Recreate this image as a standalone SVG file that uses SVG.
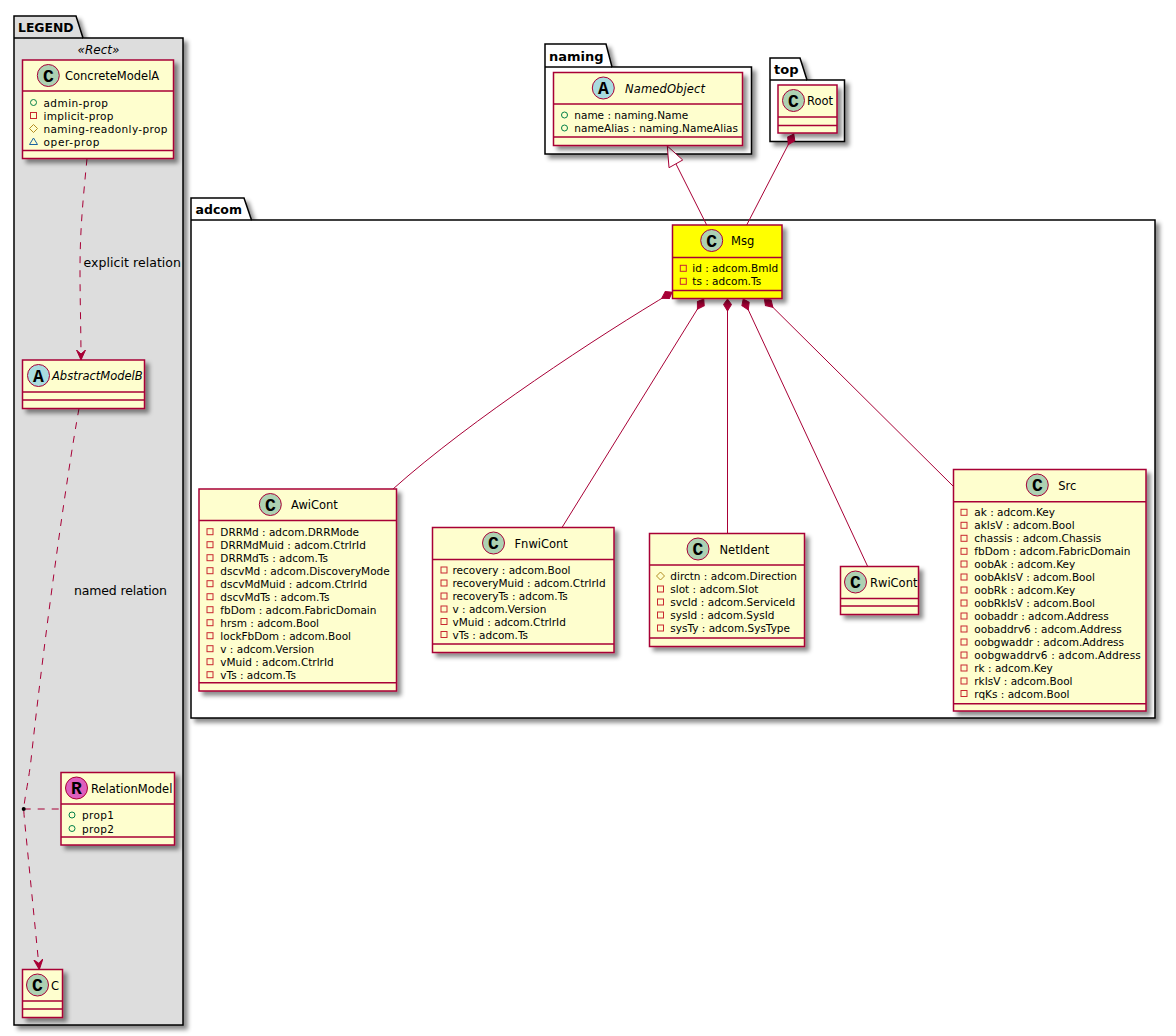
<svg xmlns="http://www.w3.org/2000/svg" width="1176" height="1036" viewBox="0 0 1176 1036">
<defs>
<filter id="ds" x="-20%" y="-20%" width="150%" height="150%"><feDropShadow dx="4" dy="4" stdDeviation="2.200" flood-color="#000" flood-opacity=".45"/></filter>
<g id="ip"><circle cx="0" cy="0" r="3" fill="none" stroke="#038048"/></g>
<g id="im"><rect x="-3" y="-3" width="6" height="6" fill="none" stroke="#C82930"/></g>
<g id="ih"><path d="M0 -4L4 0L0 4L-4 0Z" fill="none" stroke="#B38D22"/></g>
<g id="it"><path d="M0 -3.500L4 3L-4 3Z" fill="none" stroke="#1963A0"/></g>
<marker id="comp" viewBox="0 0 14 10" refX="0" refY="5" markerWidth="14" markerHeight="10" markerUnits="userSpaceOnUse" orient="auto"><path d="M0.500 5L6 1L12.500 5L6 9Z" fill="#A80036" stroke="#A80036"/></marker>
<marker id="open" viewBox="0 0 10 10" refX="10" refY="5" markerWidth="10" markerHeight="10" markerUnits="userSpaceOnUse" orient="auto"><path d="M10 5L0 0.500L4 5L0 9.500Z" fill="#A80036" stroke="#A80036"/></marker>
</defs>
<style>
text{font-family:"DejaVu Sans","Liberation Sans",sans-serif;font-size:10.5px;fill:#000}
.t{font-size:11.5px}
.i{font-style:italic}
.p{font-size:13px;font-weight:bold}
.lb{font-size:12.5px}
.pk{fill:#fff;stroke:#000;stroke-width:1.5;filter:url(#ds)}
.n{fill:#FEFECE;stroke:#A80036;stroke-width:1.5;filter:url(#ds)}
.y{fill:#FFFF00;stroke:#A80036;stroke-width:1.5;filter:url(#ds)}
.d{stroke:#A80036;stroke-width:1.5;fill:none}
.bl{stroke:#000;stroke-width:1.5;fill:none}
.c{fill:#ADD1B2;stroke:#A80036;stroke-width:1}
.a{fill:#A9DCDF;stroke:#A80036;stroke-width:1}
.r{fill:#DE5FBD;stroke:#A80036;stroke-width:1}
.g{font-family:"Liberation Mono",monospace;font-size:18px;font-weight:bold;text-anchor:middle}
.l{stroke:#A80036;stroke-width:1;fill:none}
.da{stroke-dasharray:7,7}
</style>

<g id="pkg-legend">
<path d="M14 38V16H76L83 38H183V1025H14Z" class="pk" style="fill:#DDD"/>
<path d="M14 38H83" class="bl"/>
<text class="p" x="18" y="32" style="font-size:12.4px">LEGEND</text>
<text class="i" x="98.500" y="54" text-anchor="middle" style="font-size:12px">«Rect»</text>
</g>
<g id="pkg-naming">
<path d="M545 67V44H606L612 67H751.500V154H545Z" class="pk"/>
<path d="M545 67H612" class="bl"/>
<text class="p" x="549" y="61">naming</text>
</g>
<g id="pkg-top">
<path d="M770 80V58H800L807 80H844.500V141.500H770Z" class="pk"/>
<path d="M770 80H807" class="bl"/>
<text class="p" x="774" y="73.500">top</text>
</g>
<g id="pkg-adcom">
<path d="M191 220V198H244L251.500 220H1155V718H191Z" class="pk"/>
<path d="M191 220H251.500" class="bl"/>
<text class="p" x="195.500" y="214" style="font-size:12.5px">adcom</text>
</g>

<g id="connectors">
<path class="l da" d="M87 158.500C83 200 80 230 80 270C80 300 81 330 81 360" marker-end="url(#open)"/>
<path class="l da" d="M79 408.500C66 480 44 640 31 760C28 785 25 795 23.700 809C24 815 24.500 820 25 825L39.300 969.500" marker-end="url(#open)"/>
<path class="l da" d="M23.700 809H61"/>
<circle cx="23.700" cy="809" r="2" fill="#000"/>
<path class="l" d="M706.700 225L676 164"/>
<path d="M667.300 146L669 167.700L682.700 160Z" fill="#fff" stroke="#A80036"/>
<path class="l" d="M794 133.500L746.700 225" marker-start="url(#comp)"/>
<path class="l" d="M672.500 292C600 335 470 420 393 489" marker-start="url(#comp)"/>
<path class="l" d="M704 298.500L562 527.500" marker-start="url(#comp)"/>
<path class="l" d="M727.500 298.500V533.500" marker-start="url(#comp)"/>
<path class="l" d="M743 298.500L867.700 566.500" marker-start="url(#comp)"/>
<path class="l" d="M764 298.500L953 486" marker-start="url(#comp)"/>
<text class="lb" x="83.500" y="267" textLength="97.500">explicit relation</text>
<text class="lb" x="74" y="595" textLength="93">named relation</text>
</g>

<g id="ConcreteModelA">
<rect class="n" x="22.500" y="60" width="151" height="98.500"/>
<path class="d" d="M22.500 91H173.500M22.500 150.500H173.500"/>
<circle class="c" cx="48.300" cy="75.500" r="11"/><text class="g" x="48.300" y="81.500">C</text>
<text class="t" x="65" y="80">ConcreteModelA</text>
<use href="#ip" x="33.500" y="102.500"/><text x="43.500" y="106.500" textLength="64.500">admin-prop</text>
<use href="#im" x="33.500" y="115.500"/><text x="43.500" y="119.500" textLength="70">implicit-prop</text>
<use href="#ih" x="33.500" y="128.500"/><text x="43.500" y="132.500" textLength="124">naming-readonly-prop</text>
<use href="#it" x="33.500" y="141.500"/><text x="43.500" y="145.500" textLength="56">oper-prop</text>
</g>
<g id="AbstractModelB">
<rect class="n" x="22.500" y="360" width="122" height="48.500"/>
<path class="d" d="M22.500 392H144.500M22.500 400H144.500"/>
<circle class="a" cx="38.500" cy="375.500" r="11"/><text class="g" x="38.500" y="381.500">A</text>
<text class="t i" x="52" y="380">AbstractModelB</text>
</g>
<g id="RelationModel">
<rect class="n" x="61" y="772.500" width="113.500" height="72.500"/>
<path class="d" d="M61 804H174.500M61 837H174.500"/>
<circle class="r" cx="76.500" cy="788" r="11"/><text class="g" x="76.500" y="794">R</text>
<text class="t" x="91" y="792.500">RelationModel</text>
<use href="#ip" x="72" y="815"/><text x="82" y="819" textLength="32">prop1</text>
<use href="#ip" x="72" y="828.500"/><text x="82" y="832.500" textLength="32">prop2</text>
</g>
<g id="C">
<rect class="n" x="22.500" y="969.500" width="40" height="48"/>
<path class="d" d="M22.500 1001H62.500M22.500 1009H62.500"/>
<circle class="c" cx="37.500" cy="985" r="11"/><text class="g" x="37.500" y="991">C</text>
<text class="t" x="51" y="989.500">C</text>
</g>

<g id="NamedObject">
<rect class="n" x="553.500" y="72.500" width="189" height="73"/>
<path class="d" d="M553.500 104H742.500M553.500 137H742.500"/>
<circle class="a" cx="603.300" cy="88" r="11"/><text class="g" x="603.300" y="94">A</text>
<text class="t i" x="625" y="92.500" textLength="80">NamedObject</text>
<use href="#ip" x="564.500" y="115"/><text x="574.300" y="119">name : naming.Name</text>
<use href="#ip" x="564.500" y="128"/><text x="574.300" y="132">nameAlias : naming.NameAlias</text>
</g>
<g id="Root">
<rect class="n" x="778" y="85" width="59" height="48"/>
<path class="d" d="M778 117H837M778 125.500H837"/>
<circle class="c" cx="793.500" cy="100.500" r="11"/><text class="g" x="793.500" y="106.500">C</text>
<text class="t" x="807" y="105">Root</text>
</g>
<g id="Msg">
<rect class="y" x="672.500" y="225" width="109.500" height="73.500"/>
<path class="d" d="M672.500 257.500H782M672.500 290.500H782"/>
<circle class="c" cx="711.700" cy="240.500" r="11"/><text class="g" x="711.700" y="246.500">C</text>
<text class="t" x="731" y="245">Msg</text>
<use href="#im" x="683.300" y="268.300"/><text x="692.300" y="272.300">id : adcom.BmId</text>
<use href="#im" x="683.300" y="281.300"/><text x="692.300" y="285.300">ts : adcom.Ts</text>
</g>
<g id="AwiCont">
<rect class="n" x="199" y="489" width="197.500" height="202"/>
<path class="d" d="M199 520.500H396.500M199 682.700H396.500"/>
<circle class="c" cx="270.300" cy="504.500" r="11"/><text class="g" x="270.300" y="510.500">C</text>
<text class="t" x="291" y="509">AwiCont</text>
<use href="#im" x="210" y="531.700"/><text x="220.300" y="535.700">DRRMd : adcom.DRRMode</text>
<use href="#im" x="210" y="544.700"/><text x="220.300" y="548.700">DRRMdMuid : adcom.CtrlrId</text>
<use href="#im" x="210" y="557.700"/><text x="220.300" y="561.700">DRRMdTs : adcom.Ts</text>
<use href="#im" x="210" y="570.700"/><text x="220.300" y="574.700">dscvMd : adcom.DiscoveryMode</text>
<use href="#im" x="210" y="583.700"/><text x="220.300" y="587.700">dscvMdMuid : adcom.CtrlrId</text>
<use href="#im" x="210" y="596.700"/><text x="220.300" y="600.700">dscvMdTs : adcom.Ts</text>
<use href="#im" x="210" y="609.700"/><text x="220.300" y="613.700">fbDom : adcom.FabricDomain</text>
<use href="#im" x="210" y="622.700"/><text x="220.300" y="626.700">hrsm : adcom.Bool</text>
<use href="#im" x="210" y="635.700"/><text x="220.300" y="639.700">lockFbDom : adcom.Bool</text>
<use href="#im" x="210" y="648.700"/><text x="220.300" y="652.700">v : adcom.Version</text>
<use href="#im" x="210" y="661.700"/><text x="220.300" y="665.700">vMuid : adcom.CtrlrId</text>
<use href="#im" x="210" y="674.700"/><text x="220.300" y="678.700">vTs : adcom.Ts</text>
</g>
<g id="FnwiCont">
<rect class="n" x="432.500" y="527.500" width="181.500" height="125"/>
<path class="d" d="M432.500 559.500H614M432.500 644H614"/>
<circle class="c" cx="493.500" cy="543" r="11"/><text class="g" x="493.500" y="549">C</text>
<text class="t" x="514.500" y="547.500">FnwiCont</text>
<use href="#im" x="444" y="570"/><text x="452.500" y="574">recovery : adcom.Bool</text>
<use href="#im" x="444" y="583"/><text x="452.500" y="587">recoveryMuid : adcom.CtrlrId</text>
<use href="#im" x="444" y="596"/><text x="452.500" y="600">recoveryTs : adcom.Ts</text>
<use href="#im" x="444" y="609"/><text x="452.500" y="613">v : adcom.Version</text>
<use href="#im" x="444" y="621.500"/><text x="452.500" y="625.500">vMuid : adcom.CtrlrId</text>
<use href="#im" x="444" y="634.500"/><text x="452.500" y="638.500">vTs : adcom.Ts</text>
</g>
<g id="NetIdent">
<rect class="n" x="649.500" y="533.500" width="155" height="113"/>
<path class="d" d="M649.500 565H804.500M649.500 638H804.500"/>
<circle class="c" cx="698" cy="549" r="11"/><text class="g" x="698" y="555">C</text>
<text class="t" x="719.500" y="553.500">NetIdent</text>
<use href="#ih" x="660.500" y="576"/><text x="670.300" y="580">dirctn : adcom.Direction</text>
<use href="#im" x="660.500" y="589"/><text x="670.300" y="593">slot : adcom.Slot</text>
<use href="#im" x="660.500" y="602"/><text x="670.300" y="606">svcId : adcom.ServiceId</text>
<use href="#im" x="660.500" y="615"/><text x="670.300" y="619">sysId : adcom.SysId</text>
<use href="#im" x="660.500" y="628"/><text x="670.300" y="632">sysTy : adcom.SysType</text>
</g>
<g id="RwiCont">
<rect class="n" x="840.500" y="566.500" width="78" height="48"/>
<path class="d" d="M840.500 598.500H918.500M840.500 606H918.500"/>
<circle class="c" cx="855.500" cy="582" r="11"/><text class="g" x="855.500" y="588">C</text>
<text class="t" x="870" y="586.500">RwiCont</text>
</g>
<g id="Src">
<rect class="n" x="953.500" y="469.500" width="192.500" height="241.500"/>
<path class="d" d="M953.500 501.700H1146M953.500 703.700H1146"/>
<circle class="c" cx="1037.300" cy="485" r="11"/><text class="g" x="1037.300" y="491">C</text>
<text class="t" x="1058.300" y="489.500">Src</text>
<use href="#im" x="964" y="512.300"/><text x="974.300" y="516.300">ak : adcom.Key</text>
<use href="#im" x="964" y="525.300"/><text x="974.300" y="529.300">akIsV : adcom.Bool</text>
<use href="#im" x="964" y="538.300"/><text x="974.300" y="542.300">chassis : adcom.Chassis</text>
<use href="#im" x="964" y="551.300"/><text x="974.300" y="555.300">fbDom : adcom.FabricDomain</text>
<use href="#im" x="964" y="564"/><text x="974.300" y="568">oobAk : adcom.Key</text>
<use href="#im" x="964" y="577"/><text x="974.300" y="581">oobAkIsV : adcom.Bool</text>
<use href="#im" x="964" y="590"/><text x="974.300" y="594">oobRk : adcom.Key</text>
<use href="#im" x="964" y="603"/><text x="974.300" y="607">oobRkIsV : adcom.Bool</text>
<use href="#im" x="964" y="616"/><text x="974.300" y="620">oobaddr : adcom.Address</text>
<use href="#im" x="964" y="629"/><text x="974.300" y="633">oobaddrv6 : adcom.Address</text>
<use href="#im" x="964" y="642"/><text x="974.300" y="646">oobgwaddr : adcom.Address</text>
<use href="#im" x="964" y="655"/><text x="974.300" y="659" textLength="166.500">oobgwaddrv6 : adcom.Address</text>
<use href="#im" x="964" y="668"/><text x="974.300" y="672">rk : adcom.Key</text>
<use href="#im" x="964" y="681"/><text x="974.300" y="685">rkIsV : adcom.Bool</text>
<use href="#im" x="964" y="693.500"/><text x="974.300" y="697.500">rqKs : adcom.Bool</text>
</g>
</svg>
